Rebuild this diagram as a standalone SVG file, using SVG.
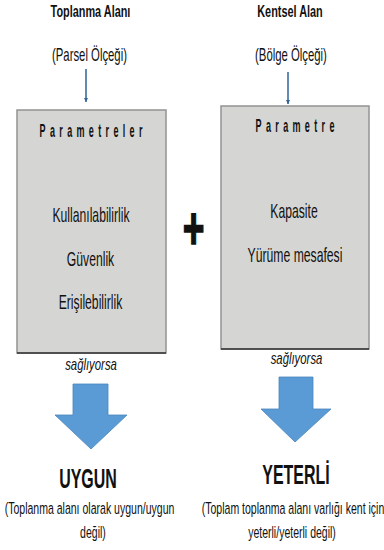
<svg xmlns="http://www.w3.org/2000/svg" width="384" height="550" viewBox="0 0 384 550">
  <defs>
    <marker id="ah" viewBox="0 0 10 10" refX="10" refY="5" markerWidth="4" markerHeight="4" markerUnits="userSpaceOnUse" orient="auto">
      <path d="M0,0 L10,5 L0,10 z" fill="#2e6596"/>
    </marker>
  </defs>
  <style>
    text { font-family: "Liberation Sans", Arial, sans-serif; fill: #111; text-anchor: middle; }
    .h { font-weight: bold; font-size: 17px; }
    .sub { font-size: 18px; }
    .ph { font-weight: bold; font-size: 18px; letter-spacing: 8.7px; }
    .b { font-size: 20px; }
    .it { font-style: italic; font-size: 16px; }
    .res { font-weight: bold; font-size: 28px; }
    .note { font-size: 17px; }
    .box { fill: #d5d6d3; stroke: #939393; stroke-width: 1.5; }
    .shadow { stroke: #333; stroke-width: 1.5; }
    .conn { stroke: #2e6596; stroke-width: 1.5; fill: none; }
    .blk { fill: #5b9bd5; stroke: #4a86bd; stroke-width: 0.8; }
  </style>

  <rect width="384" height="550" fill="#ffffff"/>

  <g id="title-left">
    <text class="h" transform="translate(90.5,17) scale(0.64,1)">Toplanma Alanı</text>
    <text class="sub" transform="translate(89.5,61) scale(0.63,1)">(Parsel Ölçeği)</text>
  </g>
  <g id="title-right">
    <text class="h" transform="translate(290,17) scale(0.64,1)">Kentsel Alan</text>
    <text class="sub" transform="translate(291,61) scale(0.63,1)">(Bölge Ölçeği)</text>
  </g>

  <g id="box-left">
    <rect class="box" x="17" y="110" width="149" height="243"/>
    <line class="shadow" x1="17" y1="353" x2="166" y2="353"/>
    <text class="ph" x="4.35" y="0" transform="translate(91,137) scale(0.5,1)">Parametreler</text>
    <text class="b" transform="translate(91,222) scale(0.61,1)">Kullanılabilirlik</text>
    <text class="b" transform="translate(90.5,266) scale(0.61,1)">Güvenlik</text>
    <text class="b" transform="translate(90.5,309) scale(0.61,1)">Erişilebilirlik</text>
  </g>

  <g id="box-right">
    <rect class="box" x="221" y="106" width="148" height="243"/>
    <line class="shadow" x1="221" y1="349" x2="369" y2="349"/>
    <text class="ph" x="4.35" y="0" transform="translate(295,132) scale(0.5,1)">Parametre</text>
    <text class="b" transform="translate(294,218) scale(0.61,1)">Kapasite</text>
    <text class="b" transform="translate(295,262) scale(0.61,1)">Yürüme mesafesi</text>
  </g>

  <g id="plus">
    <text x="0" y="249" font-weight="bold" font-size="60" transform="translate(193.5,0) scale(0.62,1)" stroke="#111" stroke-width="1.5">+</text>
  </g>

  <g id="result-left">
    <text class="res" transform="translate(88,488) scale(0.57,1)">UYGUN</text>
    <text class="note" transform="translate(89.5,514) scale(0.62,1)">(Toplanma alanı olarak uygun/uygun</text>
    <text class="note" transform="translate(93,538) scale(0.62,1)">değil)</text>
  </g>
  <g id="result-right">
    <text class="res" transform="translate(296,484) scale(0.57,1)">YETERLİ</text>
    <text class="note" transform="translate(293,514) scale(0.62,1)">(Toplam toplanma alanı varlığı kent için</text>
    <text class="note" transform="translate(292,538) scale(0.62,1)">yeterli/yeterli değil)</text>
  </g>

  <g id="connectors">
    <line class="conn" x1="86" y1="69" x2="86" y2="102" marker-end="url(#ah)"/>
    <line class="conn" x1="288" y1="72" x2="288" y2="104" marker-end="url(#ah)"/>
    <text class="it" transform="translate(91,370) scale(0.71,1)">sağlıyorsa</text>
    <text class="it" transform="translate(296.5,364) scale(0.71,1)">sağlıyorsa</text>
    <polygon class="blk" points="73,384 108,384 108,415 127,415 91,449 55,415 73,415"/>
    <polygon class="blk" points="279,377 313,377 313,409 331,409 295,442 261,409 279,409"/>
  </g>
</svg>
